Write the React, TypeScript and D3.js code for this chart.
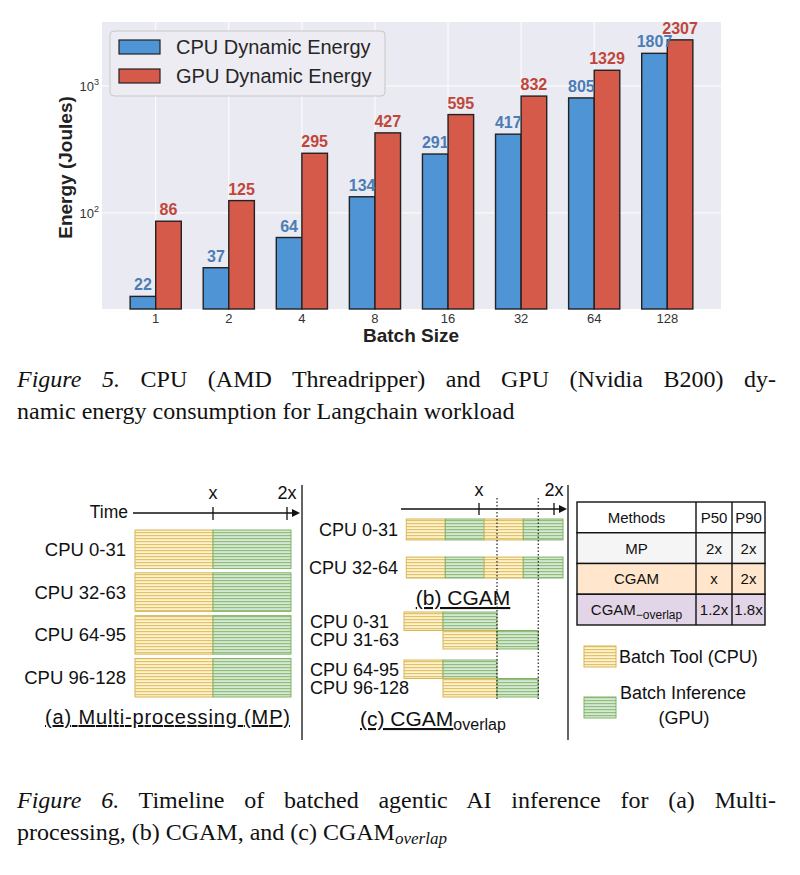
import React, { useLayoutEffect, useRef, useState } from 'react';
import * as d3 from 'd3';

// ---- Figure 5 data ----
const batchSizes = ['1', '2', '4', '8', '16', '32', '64', '128'];
const cpuEnergy = [22, 37, 64, 134, 291, 417, 805, 1807];
const gpuEnergy = [86, 125, 295, 427, 595, 832, 1329, 2307];
const yTicks = [100, 1000];
const seriesNames = ['CPU Dynamic Energy', 'GPU Dynamic Energy'];

// ---- Figure 6 data ----
const timeTicks = [
  { v: 1, label: 'x' },
  { v: 2, label: '2x' },
];
const mpRows = ['CPU 0-31', 'CPU 32-63', 'CPU 64-95', 'CPU 96-128'];
const mpBounds = [0, 1, 2]; // tool | inference
const cgamRows = ['CPU 0-31', 'CPU 32-64'];
const cgamBounds = [0.03, 0.55, 1.07, 1.59, 2.12]; // tool, inf, tool, inf
const overlapRows = ['CPU 0-31', 'CPU 31-63', 'CPU 64-95', 'CPU 96-128'];
const overlapBounds = [
  [0, 0.52, 1.24],
  [0.52, 1.24, 1.79],
  [0, 0.52, 1.24],
  [0.52, 1.24, 1.79],
];
const overlapMarks = [1.24, 1.79];
const tableHeader = ['Methods', 'P50', 'P90'];
const tableMethods = ['MP', 'CGAM', 'CGAM_overlap'];
const tableP50 = ['2x', 'x', '1.2x'];
const tableP90 = ['2x', '2x', '1.8x'];
const tableFills = ['#f5f5f5', '#ffe6cc', '#e1d5e7'];

const SANS = '"Liberation Sans", Arial, sans-serif';
const SERIF = '"Liberation Serif", "Times New Roman", serif';
const BLUE = '#4f94d4';
const RED = '#d65a4a';
const BLUE_TXT = '#4a7db5';
const RED_TXT = '#c0463a';

const kindFill = ['url(#hatchTool)', 'url(#hatchInf)'];
const kindStroke = ['#d6b656', '#82b366'];

// justified caption line: stretch word spacing to fill the width
function JustifiedLine({ x, y, width, children }: { x: number; y: number; width: number; children: React.ReactNode }) {
  const ref = useRef<SVGTextElement>(null);
  const [ws, setWs] = useState(0);
  useLayoutEffect(() => {
    const el = ref.current;
    if (!el) return;
    const len = el.getComputedTextLength();
    const spaces = (el.textContent || '').split(' ').length - 1;
    if (spaces > 0) setWs((width - len) / spaces);
  }, [width]);
  return (
    <text ref={ref} x={x} y={y} fontFamily={SERIF} fontSize={24} fill="#111" wordSpacing={ws}>
      {children}
    </text>
  );
}

export default function App() {
  // bar chart geometry
  const plot = { left: 102, right: 721, top: 22, bottom: 309 };
  const n = batchSizes.length;
  const barW = 0.35;
  const x = d3.scaleLinear().domain([-0.735, n - 1 + 0.735]).range([plot.left, plot.right]);
  const y = d3.scaleLog().domain([17.5, 3190]).range([plot.bottom, plot.top]);
  const series = [
    { name: seriesNames[0], values: cpuEnergy, fill: BLUE, txt: BLUE_TXT, off: -barW },
    { name: seriesNames[1], values: gpuEnergy, fill: RED, txt: RED_TXT, off: 0 },
  ];

  // timelines
  const tA = d3.scaleLinear().domain([0, 2]).range([135, 291]);
  const rowsA = d3.scaleBand().domain(mpRows).range([530, 697]).paddingInner(0.1);
  const tB = d3.scaleLinear().domain([0, 2]).range([404, 554]);
  const rowsB = d3.scaleBand().domain(cgamRows).range([519, 578]).paddingInner(0.45);
  const groupsC = d3.scaleBand<number>().domain([0, 1]).range([612, 697]).paddingInner(0.23);
  const rowC = (i: number) => {
    const h = groupsC.bandwidth() / 2;
    return { y: (groupsC(Math.floor(i / 2)) as number) + (i % 2) * h, h };
  };

  // table
  const tableCols = [577, 696, 732, 765];
  const tableRows = d3.scaleBand<number>().domain([0, 1, 2, 3]).range([502, 625]);

  const arrow = (x1: number, x2: number, yy: number) => (
    <g>
      <line x1={x1} x2={x2 - 6} y1={yy} y2={yy} stroke="#111" strokeWidth={1.3} />
      <path d={`M${x2},${yy} L${x2 - 8},${yy - 4} L${x2 - 8},${yy + 4} Z`} fill="#111" />
    </g>
  );

  const segs = (bounds: number[], t: d3.ScaleLinear<number, number>, yy: number, h: number, k0 = 0) =>
    bounds.slice(0, -1).map((b, j) => (
      <rect
        key={j}
        x={t(b)}
        y={yy}
        width={t(bounds[j + 1]) - t(b)}
        height={h}
        fill={kindFill[(j + k0) % 2]}
        stroke={kindStroke[(j + k0) % 2]}
        strokeWidth={1}
      />
    ));

  return (
    <svg width={800} height={875} style={{ position: 'absolute', left: 0, top: 0 }}>
      <defs>
        <pattern id="hatchTool" width={6} height={3} patternUnits="userSpaceOnUse">
          <rect width={6} height={3} fill="#fff2cc" />
          <rect y={1} width={6} height={1.2} fill="#d6b656" opacity={0.8} />
        </pattern>
        <pattern id="hatchInf" width={6} height={3} patternUnits="userSpaceOnUse">
          <rect width={6} height={3} fill="#d5e8d4" />
          <rect y={1} width={6} height={1.2} fill="#82b366" opacity={0.8} />
        </pattern>
      </defs>

      {/* ---------- Figure 5 ---------- */}
      <rect x={plot.left} y={plot.top} width={plot.right - plot.left} height={plot.bottom - plot.top} fill="#eaeaf2" />
      {batchSizes.map((_, i) => (
        <line key={i} x1={x(i)} x2={x(i)} y1={plot.top} y2={plot.bottom} stroke="#fff" strokeWidth={1} />
      ))}
      {yTicks.map((t) => (
        <line key={t} x1={plot.left} x2={plot.right} y1={y(t)} y2={y(t)} stroke="#fff" strokeWidth={1} />
      ))}
      {series.map((s) =>
        s.values.map((v, i) => (
          <rect
            key={s.name + i}
            x={x(i + s.off)}
            y={y(v)}
            width={x(i + s.off + barW) - x(i + s.off)}
            height={plot.bottom - y(v)}
            fill={s.fill}
            stroke="#222"
            strokeWidth={1.4}
          />
        ))
      )}
      {series.map((s) =>
        s.values.map((v, i) => (
          <text
            key={'l' + s.name + i}
            x={x(i + s.off + barW / 2)}
            y={y(v) - 6}
            textAnchor="middle"
            fontFamily={SANS}
            fontWeight="bold"
            fontSize={16}
            fill={s.txt}
          >
            {v}
          </text>
        ))
      )}
      {batchSizes.map((b, i) => (
        <text key={b} x={x(i)} y={323} textAnchor="middle" fontFamily={SANS} fontSize={13} fill="#333">
          {b}
        </text>
      ))}
      {yTicks.map((t) => (
        <text key={t} x={99} y={y(t) + 5} textAnchor="end" fontFamily={SANS} fontSize={13} fill="#333">
          10
          <tspan dy={-6} fontSize={9}>
            {Math.round(Math.log10(t))}
          </tspan>
        </text>
      ))}
      <text x={411} y={342} textAnchor="middle" fontFamily={SANS} fontWeight="bold" fontSize={19} fill="#222">
        Batch Size
      </text>
      <text
        transform={`translate(72,${(plot.top + plot.bottom) / 2 + 2}) rotate(-90)`}
        textAnchor="middle"
        fontFamily={SANS}
        fontWeight="bold"
        fontSize={19}
        fill="#222"
      >
        Energy (Joules)
      </text>
      {/* legend */}
      <rect x={110} y={31} width={275} height={65} rx={4} fill="#ececf2" stroke="#c8c8c8" />
      {series.map((s, i) => (
        <g key={'lg' + i}>
          <rect x={119} y={40 + i * 29} width={41} height={14} fill={s.fill} stroke="#222" strokeWidth={1.2} />
          <text x={176} y={54 + i * 29} fontFamily={SANS} fontSize={20} fill="#262626">
            {s.name}
          </text>
        </g>
      ))}

      {/* caption 5 */}
      <JustifiedLine x={17} y={387} width={759}>
        <tspan fontStyle="italic">Figure 5.</tspan> CPU (AMD Threadripper) and GPU (Nvidia B200) dy-
      </JustifiedLine>
      <text x={17} y={419} fontFamily={SERIF} fontSize={24} fill="#111">
        namic energy consumption for Langchain workload
      </text>

      {/* ---------- Figure 6 ---------- */}
      {/* (a) multi-processing */}
      <text x={128} y={518} textAnchor="end" fontFamily={SANS} fontSize={17.5} fill="#111">
        Time
      </text>
      {arrow(133, 300, 513)}
      {timeTicks.map((t) => (
        <g key={'a' + t.v}>
          <line x1={tA(t.v) - 4 * (t.v - 1)} x2={tA(t.v) - 4 * (t.v - 1)} y1={507} y2={520} stroke="#111" strokeWidth={1.3} />
          <text x={tA(t.v) - 4 * (t.v - 1)} y={499} textAnchor="middle" fontFamily={SANS} fontSize={18} fill="#111">
            {t.label}
          </text>
        </g>
      ))}
      {mpRows.map((r) => (
        <g key={'mp' + r}>
          {segs(mpBounds, tA, rowsA(r) as number, rowsA.bandwidth())}
          <text
            x={126}
            y={(rowsA(r) as number) + rowsA.bandwidth() / 2 + 6.5}
            textAnchor="end"
            fontFamily={SANS}
            fontSize={18.5}
            fill="#111"
          >
            {r}
          </text>
        </g>
      ))}
      <text x={45} y={724} fontFamily={SANS} fontSize={20} fill="#111" textDecoration="underline" textLength={245} lengthAdjust="spacing">
        (a) Multi-processing (MP)
      </text>
      <line x1={302} x2={302} y1={485} y2={740} stroke="#111" strokeWidth={1.3} />
      <line x1={568} x2={568} y1={485} y2={740} stroke="#111" strokeWidth={1.3} />

      {/* (b) CGAM */}
      {arrow(401, 567, 509)}
      {timeTicks.map((t) => (
        <g key={'b' + t.v}>
          <line x1={tB(t.v)} x2={tB(t.v)} y1={503} y2={515} stroke="#111" strokeWidth={1.3} />
          <text x={tB(t.v)} y={496} textAnchor="middle" fontFamily={SANS} fontSize={18} fill="#111">
            {t.label}
          </text>
        </g>
      ))}
      {cgamRows.map((r) => (
        <g key={'cg' + r}>
          {segs(cgamBounds, tB, rowsB(r) as number, rowsB.bandwidth())}
          <text
            x={398}
            y={(rowsB(r) as number) + rowsB.bandwidth() / 2 + 6.5}
            textAnchor="end"
            fontFamily={SANS}
            fontSize={18}
            fill="#111"
          >
            {r}
          </text>
        </g>
      ))}
      <text x={463} y={605} textAnchor="middle" fontFamily={SANS} fontSize={21} fill="#111" textDecoration="underline">
        (b) CGAM
      </text>

      {/* (c) CGAM overlap */}
      {overlapRows.map((r, i) => {
        const { y: yy, h } = rowC(i);
        return (
          <g key={'ov' + i}>
            {segs(overlapBounds[i], tB, yy, h)}
            <text x={310} y={yy + h / 2 + 6.5} fontFamily={SANS} fontSize={18} fill="#111">
              {r}
            </text>
          </g>
        );
      })}
      {overlapMarks.map((m) => (
        <line key={m} x1={tB(m)} x2={tB(m)} y1={498} y2={700} stroke="#222" strokeWidth={1.2} strokeDasharray="1.5,2" />
      ))}
      <text x={360} y={726} fontFamily={SANS} fontSize={21} fill="#111">
        <tspan textDecoration="underline">(c) CGAM</tspan>
        <tspan fontSize={16} dy={4}>
          overlap
        </tspan>
      </text>

      {/* table */}
      {[0, 1, 2, 3].map((ri) => (
        <rect
          key={'tr' + ri}
          x={tableCols[0]}
          y={tableRows(ri) as number}
          width={tableCols[3] - tableCols[0]}
          height={tableRows.bandwidth()}
          fill={ri === 0 ? '#ffffff' : tableFills[ri - 1]}
          stroke="#111"
          strokeWidth={1.4}
        />
      ))}
      {[1, 2].map((ci) => (
        <line key={'tc' + ci} x1={tableCols[ci]} x2={tableCols[ci]} y1={502} y2={625} stroke="#111" strokeWidth={1.4} />
      ))}
      {[tableHeader, ...tableMethods.map((m, i) => [m, tableP50[i], tableP90[i]])].map((row, ri) =>
        row.map((cell, ci) => {
          const cx = (tableCols[ci] + tableCols[ci + 1]) / 2;
          const cy = (tableRows(ri) as number) + tableRows.bandwidth() / 2 + 5.5;
          const parts = cell.split('_');
          return (
            <text key={'t' + ri + ci} x={cx} y={cy} textAnchor="middle" fontFamily={SANS} fontSize={15} fill="#111">
              {parts[0]}
              {parts[1] && (
                <tspan fontSize={12} dy={4}>
                  {'\u2212' + parts[1]}
                </tspan>
              )}
            </text>
          );
        })
      )}

      {/* legend */}
      <rect x={584} y={646} width={32} height={21} fill={kindFill[0]} stroke={kindStroke[0]} />
      <text x={619} y={663} fontFamily={SANS} fontSize={18} fill="#111">
        Batch Tool (CPU)
      </text>
      <rect x={584} y={697} width={32} height={21} fill={kindFill[1]} stroke={kindStroke[1]} />
      <text x={683} y={699} textAnchor="middle" fontFamily={SANS} fontSize={18} fill="#111">
        Batch Inference
      </text>
      <text x={684} y={724} textAnchor="middle" fontFamily={SANS} fontSize={18} fill="#111">
        (GPU)
      </text>

      {/* caption 6 */}
      <JustifiedLine x={17} y={808} width={759}>
        <tspan fontStyle="italic">Figure 6.</tspan> Timeline of batched agentic AI inference for (a) Multi-
      </JustifiedLine>
      <text x={17} y={840} fontFamily={SERIF} fontSize={24} fill="#111">
        processing, (b) CGAM, and (c) CGAM
        <tspan fontStyle="italic" fontSize={17} dy={4}>
          overlap
        </tspan>
      </text>
    </svg>
  );
}
